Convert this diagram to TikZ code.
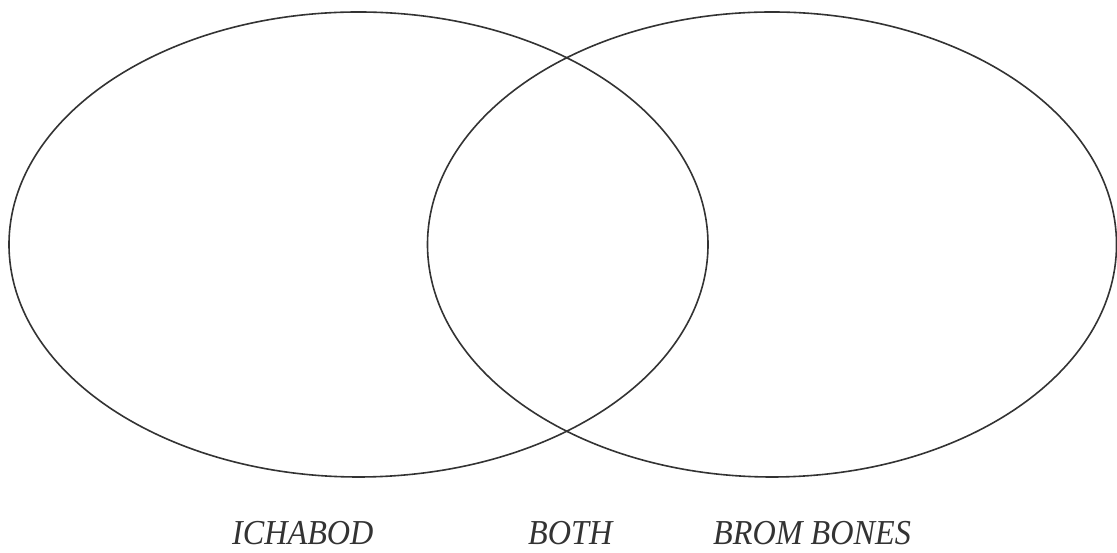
\documentclass[tikz,border=0pt]{standalone}
\usepackage{fontspec}
\setmainfont{Liberation Serif}
\newfontfamily\lblfont[FakeStretch=0.92]{Liberation Serif}
\begin{document}
\begin{tikzpicture}[x=1pt,y=1pt,
  venn/.style={draw=black!80,line width=1.6pt},
  lbl/.style={font=\lblfont\fontsize{35}{40}\selectfont\itshape,text=black!80,anchor=base west,inner sep=0pt}]
\useasboundingbox (0,0) rectangle (1117,553);
\draw[venn] (358.5,308.5) ellipse [x radius=349.5, y radius=232.5];
\draw[venn] (772,308.5) ellipse [x radius=344.5, y radius=232.5];
\node[lbl] (ich) at (232,8) {ICHABOD};
\node[lbl] (both) at (528,8) {BOTH};
\node[lbl] (brom) at (713,8) {BROM BONES};
\end{tikzpicture}
\end{document}
